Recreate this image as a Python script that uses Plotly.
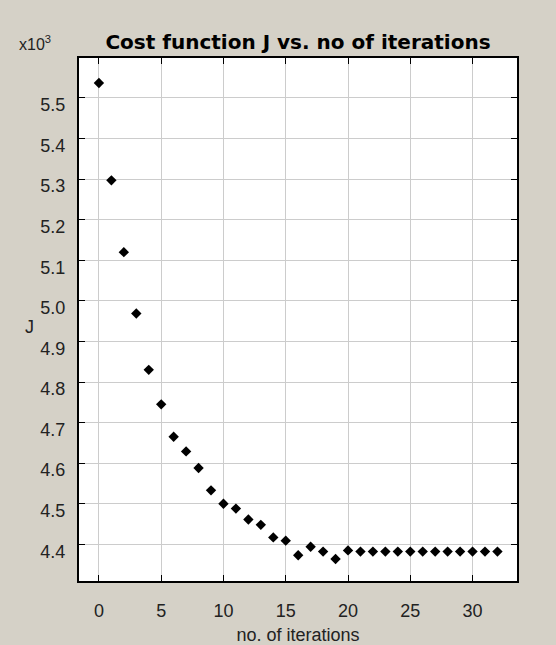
import plotly.graph_objects as go

iterations = list(range(33))
cost_k = [5.537, 5.297, 5.120, 4.969, 4.830, 4.745, 4.665, 4.629, 4.588, 4.533,
          4.500, 4.488, 4.461, 4.448, 4.417, 4.409, 4.373, 4.394, 4.382, 4.364,
          4.385, 4.382, 4.382, 4.382, 4.382, 4.382, 4.382, 4.382, 4.382, 4.382,
          4.382, 4.382, 4.382]
x_ticks = [0, 5, 10, 15, 20, 25, 30]
y_ticks = [4.4, 4.5, 4.6, 4.7, 4.8, 4.9, 5.0, 5.1, 5.2, 5.3, 5.4, 5.5]

FONT = "Liberation Sans, Arial, sans-serif"
TXT = "#222222"

fig = go.Figure(go.Scatter(
    x=iterations, y=cost_k, mode="markers",
    marker=dict(symbol="diamond", size=8, color="black"),
    showlegend=False,
))

axis_common = dict(
    showline=True, linecolor="black", linewidth=2, mirror="ticks",
    ticks="inside", ticklen=6, tickcolor="black", tickwidth=1,
    showgrid=True, gridcolor="#cccccc", gridwidth=1,
    zeroline=False, automargin=False,
    tickfont=dict(family=FONT, size=18, color=TXT),
)

fig.update_layout(
    width=556, height=645,
    margin=dict(l=79, r=39, t=58, b=64),
    paper_bgcolor="#d5d1c7",
    plot_bgcolor="white",
    title=dict(text="<b>Cost function J vs. no of iterations</b>",
               x=0.5, xanchor="center", xref="paper",
               y=1 - 42 / 645, yref="container", yanchor="middle",
               font=dict(family="DejaVu Sans, sans-serif", size=20, color="black")),
    xaxis=dict(axis_common, range=[-1.6, 33.57], tickvals=x_ticks,
               ticklabelstandoff=12,
               title=dict(text="no. of iterations", standoff=9,
                          font=dict(family=FONT, size=18, color=TXT))),
    yaxis=dict(axis_common, range=[4.3096, 5.5985], tickvals=y_ticks,
               tickformat=".1f", ticklabelstandoff=8, ticklabelshift=7),
    annotations=[
        dict(text="J", x=-0.114, xref="paper", y=4.936, yref="y",
             xanchor="center", yanchor="middle", showarrow=False,
             font=dict(family=FONT, size=18, color=TXT)),
        dict(text="x10<sup>3</sup>", x=-0.10, xref="paper", y=1, yref="paper",
             showarrow=False, xanchor="center", yanchor="middle", yshift=15,
             font=dict(family=FONT, size=16, color=TXT)),
    ],
)
fig.write_html("out.html", config={"displayModeBar": False},
               post_script="document.body.style.margin='0';document.body.style.overflow='hidden';")
